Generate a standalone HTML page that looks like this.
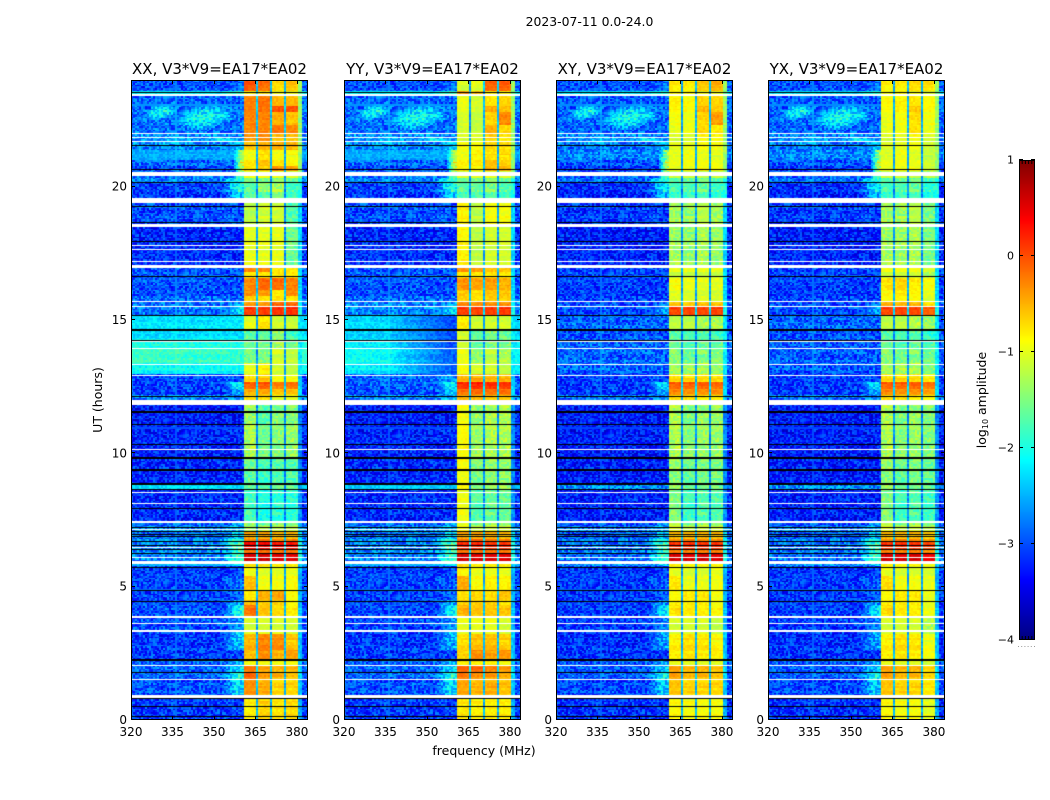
<!DOCTYPE html>
<html lang="en">
<head>
<meta charset="utf-8">
<title>Waterfall amplitude chart</title>
<style>
html,body{margin:0;padding:0;background:#fff;width:1050px;height:800px;overflow:hidden}
#chart{position:relative;width:1050px;height:800px;font-family:"DejaVu Sans","Liberation Sans",sans-serif;color:#000}
canvas{position:absolute;display:block}
svg{position:absolute;left:0;top:0}
svg text{font-family:"DejaVu Sans","Liberation Sans",sans-serif;fill:#000}
</style>
</head>
<body>
<div id="chart">
<svg id="overlay" width="1050" height="800"></svg>
</div>
<script>
const panelTitles = ["XX, V3*V9=EA17*EA02","YY, V3*V9=EA17*EA02","XY, V3*V9=EA17*EA02","YX, V3*V9=EA17*EA02"];
const freqTicks = [320,335,350,365,380];
const hourTicks = [0,5,10,15,20];
const colorbarTicks = [1,0,-1,-2,-3,-4];
const notchFreqs = [365.2,370.2,375.3];
const segmentTopHours = [24,23.55,23.44,23.06,22.8,22.3,21.97,21.64,21.37,21.0,20.77,20.55,20.33,20.17,19.8,19.35,18.45,16.95,16.8,16.54,16.13,15.9,15.64,15.49,15.15,14.59,14.25,13.91,13.35,12.94,12.67,12.45,12.15,11.81,11.1,9.82,8.85,8.62,7.42,7.24,7.09,6.75,6.64,6.375,6.26,5.9,5.74,5.4,4.88,4.5,4.35,3.86,3.34,3.22,2.62,2.25,2.06,1.8,1.5,.86,.79];
/* level of the faint skirt above the top of the band, per segment */
const wingLevels = [-1.4,-1.4,-1.4,-1.4,-1.4,-1.4,-1.4,-1.4,-1.4,-1.4,-1.4,-1.5,-1.9,-2,-2,-2.3,-2.3,-2.3,-2.3,-2.3,-2.3,-2.3,-2.2,-2.1,-2.2,-2.2,-2.2,-2.2,-2.2,-2.4,-2.3,-2.3,-2.4,-2.7,-2.7,-2.7,-2.6,-2.7,-2.6,-2.4,-2.2,-2.1,-2,-2.1,-2,-2.3,-2.5,-2.5,-2.5,-2.5,-2.4,-2.5,-2.5,-2.4,-2.4,-2.4,-2.3,-2.3,-2.4,-2.4,-2.5];
/* each row: background, shoulder, sub-band 1..4 (log10 amplitude) */
const xxRows = [[-2.9,-2.8,-.05,-.15,-.7,-.6],[-2.2,-1.8,-.9,-.8,-1,-1],[-2.8,-2.8,-.3,-.2,-.55,-.55],[-2.8,-2.8,-.25,-.2,-.05,-.05],[-2.75,-2.75,-.3,-.3,-.5,-.6],[-2.75,-2.75,-.3,-.3,-.2,-.3],[-2.6,-2.6,-.4,-.35,-.6,-.6],[-2.6,-2.4,-.6,-.5,-.5,-.5],[-2.5,-1.3,-.9,-.7,-.9,-.9],[-2.8,-.9,-.8,-.6,-.8,-.9],[-2.9,-1,-.7,-.6,-.3,-.4],[-2.8,-1.3,-1,-1,-1,-1.1],[-2.6,-1.9,-1.5,-1.5,-1.5,-1.6],[-3,-1.9,-1.7,-1.4,-1.3,-1.8],[-3,-2.3,-1.7,-1.7,-1.4,-1.8],[-2.9,-2.9,-1.2,-1.1,-1.1,-1.7],[-3.1,-3.1,-1,-1,-1,-1.6],[-2.9,-2.9,-.3,-.3,-.8,-.8],[-2.9,-2.9,-.8,-.8,-.8,-.8],[-2.9,-2.9,-.3,-.15,-.15,-.25],[-2.9,-2.9,-.3,-.4,-.8,-.3],[-2.8,-2.8,-.7,-.8,-.8,-.8],[-2.7,-2.5,-.35,-.35,-.1,-.1],[-2.7,-2.2,.1,.1,.15,.15],[-2.25,-2.2,-1,-.75,-1.1,-1.15],[-2.3,-2.3,-1.7,-1.7,-1.4,-1.8],[-2,-2,-1.6,-1.5,-1.3,-1.5],[-1.85,-1.9,-1.6,-1.5,-1.1,-1.2],[-2.1,-2.1,-1,-.85,-1.1,-1.2],[-2.95,-2.9,-.7,-.6,-.9,-.9],[-2.95,-2.2,-.1,-.05,-.25,-.2],[-3,-2.5,-.5,-.45,-.6,-.6],[-2.6,-2.6,-.7,-.7,-1,-1],[-3.2,-3.2,-1.4,-1.7,-1.5,-1.5],[-3.15,-3.15,-1.3,-1.6,-1.5,-1.4],[-3.1,-3.1,-1.6,-1.8,-1.7,-1.7],[-2.3,-2.3,-1.7,-1.7,-1.6,-1.7],[-3.1,-3.1,-1.8,-2,-1.9,-1.9],[-2.8,-2.6,-1.4,-1.6,-1.5,-1.5],[-2.6,-2.3,-1.3,-1.3,-1.2,-1.2],[-2.7,-2.2,-.4,-.4,-.5,-.5],[-2.6,-1.9,-.3,-.3,-.35,-.3],[-2.6,-1.7,.4,.4,.3,.3],[-2.6,-1.8,-.2,-.15,-.2,-.2],[-2.6,-1.7,.6,.65,.55,.55],[-2.5,-2.2,-.7,-.7,-.8,-.8],[-3,-3,-.95,-1,-1,-1],[-3,-2.7,-.6,-.95,-.95,-.9],[-3,-2.9,-.8,-.5,-.45,-.9],[-3,-2.5,-.6,-.7,-.7,-.9],[-2.9,-2,-.2,-.6,-.7,-.8],[-2.9,-2.6,-1.1,-1.1,-1.1,-1.1],[-2.9,-2.2,-1,-1,-1,-1],[-3,-2.3,-.5,-.25,-.3,-.6],[-3,-2.9,-.55,-.3,-.5,-.4],[-2.8,-2.4,-.9,-.9,-.9,-.9],[-2.8,-2.2,-.2,-.4,-.5,-.5],[-2.8,-1.9,-.15,-.4,-.5,-.6],[-2.9,-2.2,-.35,-.5,-.7,-.7],[-2.9,-2.2,-.35,-.5,-.7,-.7],[-3,-3,-.8,-.65,-.75,-.7]];
const yyRows = [[-2.9,-2.8,-1.1,-1,-.1,-.1],[-2.2,-1.8,-.4,-.6,-.9,-.9],[-2.8,-2.8,-1,-1.1,-.8,-.7],[-2.8,-2.8,-1,-1.1,-.5,-.6],[-2.75,-2.75,-1.1,-1.2,-.7,-.3],[-2.75,-2.75,-1.1,-1.2,-.5,-.7],[-2.6,-2.6,-1.1,-1.1,-.7,-.8],[-2.6,-2.3,-.9,-.9,-.7,-.7],[-2.5,-1.2,-.9,-.8,-.7,-.7],[-2.8,-.9,-.85,-.8,-.6,-.7],[-2.9,-.9,-.8,-.8,-.5,-.5],[-2.8,-1.2,-1.1,-1.1,-1,-1.1],[-2.6,-1.8,-1.6,-1.5,-1.5,-1.6],[-3,-1.9,-1.7,-1.6,-1.5,-1.7],[-3,-2.3,-1.8,-1.7,-1.6,-1.8],[-2.9,-2.9,-.8,-1.2,-.9,-.9],[-3.1,-3.1,-.85,-1.2,-1.1,-1.1],[-2.9,-2.9,-.35,-.4,-.6,-.6],[-2.9,-2.9,-.8,-.8,-.8,-.8],[-2.9,-2.9,-.35,-.45,-.4,-.5],[-2.9,-2.9,-.6,-.75,-.6,-.6],[-2.8,-2.8,-.7,-.8,-.7,-.7],[-2.6,-2.5,-.25,-.3,-.3,-.3],[-2.6,-2.2,.1,.05,.1,.1],[-2.3,-3,-.8,-1.1,-1.1,-1.1],[-2.35,-3,-1.1,-1.7,-1.5,-1.6],[-2.2,-3,-1.1,-1.6,-1.5,-1.5],[-2.1,-2.9,-1,-1.4,-1.2,-1.3],[-2.2,-2.9,-.9,-1.1,-1.1,-1.2],[-2.8,-2.5,-.5,-.45,-.5,-.5],[-2.8,-2.2,.15,.2,.15,.1],[-2.9,-2.3,-.2,-.15,-.2,-.2],[-2.6,-2.4,-.5,-.5,-.6,-.6],[-3.2,-3.2,-.95,-1.4,-1.3,-1.3],[-3.15,-3.15,-.9,-1.4,-1.3,-1.3],[-3.1,-3.1,-.9,-1.5,-1.4,-1.4],[-2.4,-2.4,-.9,-1.5,-1.4,-1.4],[-3.1,-3.1,-.95,-1.7,-1.6,-1.6],[-2.8,-2.6,-1,-1.5,-1.4,-1.4],[-2.6,-2.3,-.9,-1.2,-1.1,-1.1],[-2.7,-2.2,-.4,-.4,-.45,-.5],[-2.6,-1.9,-.2,-.2,-.25,-.3],[-2.6,-1.7,.2,.2,.15,.15],[-2.6,-1.8,-.2,-.2,-.2,-.2],[-2.6,-1.7,.6,.6,.55,.55],[-2.5,-2.2,-.7,-.8,-.8,-.8],[-3,-3,-.85,-.95,-.95,-1],[-3,-2.8,-.5,-.9,-.85,-.85],[-3,-2.9,-.75,-.7,-.75,-.6],[-3,-2.5,-.7,-.7,-.7,-.8],[-2.95,-2.1,-.5,-.6,-.6,-.6],[-2.95,-2.6,-1,-1,-1,-1.1],[-2.95,-2.3,-1,-1,-1,-1],[-3,-2.4,-.7,-.55,-.55,-.65],[-3,-2.9,-.65,-.3,-.4,-.35],[-2.8,-2.4,-.8,-.8,-.8,-.9],[-2.8,-2.2,-.1,-.1,-.25,-.35],[-2.8,-1.9,-.25,-.35,-.4,-.5],[-2.9,-2.2,-.45,-.55,-.5,-.6],[-2.9,-2.2,-.45,-.55,-.5,-.6],[-3,-3,-.75,-.8,-.8,-.8]];
const xyRows = [[-2.9,-2.8,-.8,-.8,-.6,-.5],[-2.3,-1.9,-.9,-.9,-1,-1],[-2.85,-2.85,-.85,-.9,-.7,-.7],[-2.85,-2.85,-.85,-.9,-.55,-.65],[-2.8,-2.8,-.95,-1,-.7,-.4],[-2.8,-2.8,-1,-1,-.7,-.8],[-2.65,-2.65,-1.1,-1.1,-.9,-.9],[-2.7,-2.4,-1,-1,-.9,-.9],[-2.6,-1.3,-.95,-.9,-.95,-1],[-2.9,-1,-1,-.95,-.95,-1],[-3,-1,-.95,-.9,-.85,-.9],[-2.9,-1.3,-1.2,-1.2,-1.2,-1.2],[-2.7,-1.9,-1.7,-1.6,-1.6,-1.7],[-3.1,-2.1,-1.8,-1.7,-1.6,-1.8],[-3.1,-2.4,-1.9,-1.8,-1.7,-1.9],[-3,-3,-1.3,-1.4,-1.2,-1.3],[-3.15,-3.15,-1.35,-1.4,-1.3,-1.4],[-3,-3,-1,-1,-1,-1],[-3,-3,-1.2,-1.2,-1.2,-1.2],[-3,-3,-.9,-1,-1,-1],[-3,-3,-1,-1.1,-1.1,-1.1],[-3,-3,-1.1,-1.1,-1.1,-1.1],[-2.9,-2.7,-.55,-.6,-.55,-.55],[-2.9,-2.5,.05,.05,.05,.05],[-2.8,-2.8,-1.2,-1.2,-1.3,-1.3],[-2.9,-2.9,-1.7,-1.8,-1.7,-1.8],[-2.8,-2.8,-1.6,-1.7,-1.6,-1.6],[-2.8,-2.8,-1.5,-1.6,-1.5,-1.5],[-2.8,-2.8,-1.3,-1.4,-1.3,-1.4],[-3,-2.9,-.7,-.7,-.7,-.7],[-3,-2.3,-.1,-.1,-.1,-.15],[-3,-2.5,-.3,-.35,-.35,-.35],[-2.7,-2.6,-.7,-.7,-.8,-.8],[-3.2,-3.2,-1.3,-1.5,-1.4,-1.4],[-3.2,-3.2,-1.3,-1.5,-1.4,-1.4],[-3.15,-3.15,-1.4,-1.6,-1.5,-1.5],[-2.6,-2.6,-1.4,-1.6,-1.6,-1.6],[-3.15,-3.15,-1.5,-1.8,-1.7,-1.7],[-2.9,-2.7,-1.2,-1.5,-1.4,-1.4],[-2.7,-2.4,-1,-1.2,-1.1,-1.1],[-2.8,-2.3,-.5,-.5,-.5,-.5],[-2.7,-2,-.35,-.35,-.35,-.35],[-2.7,-1.8,.15,.15,.15,.15],[-2.7,-1.9,-.25,-.25,-.25,-.25],[-2.7,-1.7,.6,.6,.6,.55],[-2.6,-2.3,-.8,-.85,-.85,-.85],[-3.05,-3.05,-1,-1.05,-1.05,-1],[-3.05,-2.8,-.8,-1,-1,-.95],[-3.05,-2.95,-.9,-.8,-.8,-.95],[-3.05,-2.6,-.85,-.85,-.85,-.95],[-3,-2.2,-.75,-.8,-.8,-.85],[-3,-2.7,-1.1,-1.1,-1.1,-1.2],[-3,-2.4,-1.05,-1.05,-1.05,-1.1],[-3.05,-2.5,-.8,-.7,-.75,-.85],[-3.05,-3,-.8,-.75,-.8,-.8],[-2.85,-2.5,-.95,-1,-1,-1],[-2.85,-2.3,-.4,-.5,-.5,-.55],[-2.85,-2,-.45,-.55,-.55,-.6],[-2.95,-2.3,-.6,-.7,-.7,-.7],[-2.95,-2.3,-.6,-.7,-.7,-.7],[-3.05,-3.05,-.85,-.9,-.9,-.9]];
const yxRows = [[-2.9,-2.8,-.85,-.8,-.7,-.75],[-2.3,-1.9,-.95,-.9,-1,-1.1],[-2.85,-2.85,-.9,-.85,-.8,-.9],[-2.85,-2.85,-.9,-.85,-.65,-.9],[-2.8,-2.8,-1,-.95,-.75,-.95],[-2.8,-2.8,-1,-1,-.75,-1],[-2.65,-2.65,-1.1,-1.05,-.95,-1.1],[-2.7,-2.4,-1.05,-1,-.95,-1.1],[-2.6,-1.3,-1,-.9,-1,-1.15],[-2.9,-1,-1,-.95,-1,-1.15],[-3,-1,-.95,-.9,-.9,-1.1],[-2.9,-1.3,-1.2,-1.2,-1.2,-1.3],[-2.7,-1.9,-1.7,-1.6,-1.6,-1.8],[-3.1,-2.1,-1.8,-1.7,-1.6,-1.9],[-3.1,-2.4,-1.9,-1.8,-1.7,-2],[-3,-3,-1.3,-1.35,-1.2,-1.5],[-3.15,-3.15,-1.35,-1.35,-1.3,-1.55],[-3,-3,-.95,-.95,-.95,-1.1],[-3,-3,-1.15,-1.15,-1.15,-1.3],[-3,-3,-.75,-.7,-.8,-.9],[-3,-3,-.85,-.8,-.85,-1],[-3,-3,-.95,-.9,-.95,-1.1],[-2.9,-2.7,-.45,-.5,-.5,-.7],[-2.9,-2.5,.05,.05,.05,-.1],[-2.8,-2.8,-1.2,-1.2,-1.25,-1.4],[-2.9,-2.9,-1.7,-1.8,-1.7,-1.9],[-2.85,-2.85,-1.6,-1.7,-1.6,-1.7],[-2.85,-2.85,-1.5,-1.55,-1.5,-1.6],[-2.85,-2.85,-1.3,-1.35,-1.3,-1.5],[-3,-2.9,-.7,-.7,-.7,-.8],[-3,-2.3,-.1,-.1,-.1,-.2],[-3,-2.5,-.3,-.35,-.35,-.45],[-2.7,-2.6,-.7,-.7,-.8,-.9],[-3.2,-3.2,-1.3,-1.5,-1.4,-1.5],[-3.2,-3.2,-1.3,-1.5,-1.4,-1.5],[-3.15,-3.15,-1.4,-1.6,-1.5,-1.6],[-2.6,-2.6,-1.4,-1.6,-1.6,-1.7],[-3.15,-3.15,-1.5,-1.8,-1.7,-1.8],[-2.9,-2.7,-1.2,-1.5,-1.4,-1.5],[-2.7,-2.4,-1,-1.2,-1.1,-1.2],[-2.8,-2.3,-.5,-.5,-.5,-.6],[-2.7,-2,-.35,-.35,-.35,-.45],[-2.7,-1.8,.15,.15,.15,.05],[-2.7,-1.9,-.25,-.25,-.25,-.35],[-2.7,-1.7,.6,.6,.6,.45],[-2.6,-2.3,-.8,-.85,-.85,-.95],[-3.05,-3.05,-1,-1.05,-1.05,-1.1],[-3.05,-2.8,-.75,-.95,-.95,-1],[-3.05,-2.95,-.9,-.8,-.8,-1],[-3.05,-2.6,-.85,-.85,-.85,-1],[-3,-2.2,-.7,-.8,-.8,-.95],[-3,-2.7,-1.1,-1.1,-1.1,-1.25],[-3,-2.4,-1.05,-1.05,-1.05,-1.2],[-3.05,-2.5,-.8,-.7,-.75,-.95],[-3.05,-3,-.8,-.75,-.8,-.9],[-2.85,-2.5,-.95,-1,-1,-1.1],[-2.85,-2.3,-.4,-.5,-.5,-.65],[-2.85,-2,-.45,-.55,-.55,-.7],[-2.95,-2.3,-.6,-.7,-.7,-.8],[-2.95,-2.3,-.6,-.7,-.7,-.8],[-3.05,-3.05,-.85,-.9,-.9,-1]];
/* broad background features: centre MHz, centre hour, radius MHz, radius hours, peak level */
const skyPatches = [[331,22.8,6,.3,-2],[347,22.6,10,.5,-2],[352,21.75,6,.12,-2.2],[335,21.72,12,.13,-2.3]];
/* flagged integrations: hour, duration */
const blankFlags = [[23.44,.09],[21.97,.055],[21.83,.035],[21.68,.055],[20.48,.15],[19.46,.2],[18.53,.13],[17.79,.055],[17.64,.055],[17.21,.035],[17,.13],[15.69,.035],[15.49,.035],[14.19,.035],[13.92,.035],[13.34,.035],[12.93,.035],[11.91,.19],[10.15,.035],[8.54,.055],[8.13,.035],[7.43,.09],[7.15,.035],[6.48,.035],[6.09,.055],[5.91,.13],[3.86,.075],[3.63,.035],[3.35,.075],[2.06,.035],[1.53,.035],[.87,.13]];
const darkFlags = [[23.54,.035],[21.55,.035],[20.63,.055],[20.17,.035],[19.27,.035],[18.66,.035],[17.93,.055],[16.62,.035],[15.16,.055],[14.63,.09],[14.22,.035],[12.15,.035],[11.55,.075],[11.09,.055],[10.34,.055],[9.81,.075],[9.38,.075],[8.85,.075],[8.65,.035],[7.92,.035],[7.23,.035],[7.08,.035],[6.96,.035],[6.87,.035],[6.68,.035],[6.56,.035],[6.4,.035],[6.23,.035],[5.73,.035],[4.86,.035],[4.43,.035],[2.24,.075],[1.79,.035],[.79,.055],[.51,.035],[.12,.035]];
/* hand-typed speckle texture read from the noise floor */
const speckle = [.4,-.7,.1,.9,-.3,-.9,.6,.2,-.5,.8,-.1,-.6,.3,.7,-.8,.5,-.2,.95,-.4,.15,-.75,.55,.05,-.95,.65,-.25,.35,-.55,.85,-.15,.45,-.85,.25,.75,-.35,-.65,.6,-.05,.9,-.45,.1,-.7,.5,-.9,.3,.8,-.2,-.6,.7,.0,-.8,.4,-.3,.95,-.5,.2,-.95,.55,.15,-.4,.85,-.1,-.75,.35,.65,-.55,.05,-.25,.75,-.85,.45,.25,-.65,.9,-.15,-.35,.6,-.45,.1,.8,-.9,.3,-.7,.5,.7,-.2,-.6,.4,-.05,.95,-.8,.2,-.5,.55,-.3,.85,-.95,.15,.65,-.1,-.4];

const panelRows = [xxRows,yyRows,xyRows,yxRows];
const panelLefts = [131,344,556,768];
const panelTop = 80, panelWidth = 177, panelHeight = 640;
const freqMin = 320, freqMax = 384, hourMin = 0, hourMax = 24;
const channelCount = 88, timeRowCount = 400;
const cbLeft = 1019, cbTop = 160, cbWidth = 16, cbHeight = 480, levelMin = -4, levelMax = 1;
const SVGNS = "http://www.w3.org/2000/svg";

function freqX(f){return (f-freqMin)/(freqMax-freqMin)*panelWidth;}
function hourY(h){return (hourMax-h)/(hourMax-hourMin)*panelHeight;}
function levelY(v){return cbTop+(levelMax-v)/(levelMax-levelMin)*cbHeight;}
function jet(t){
  t=Math.max(0,Math.min(1,t));
  function ramp(x){return Math.round(255*Math.max(0,Math.min(1,x)));}
  return "rgb("+ramp(Math.min(4*t-1.5,-4*t+4.5))+","+ramp(Math.min(4*t-.5,-4*t+3.5))+","+ramp(Math.min(4*t+.5,-4*t+2.5))+")";
}
function levelColor(v){return jet((v-levelMin)/(levelMax-levelMin));}
function segmentIndex(h){
  for(let i=segmentTopHours.length-1;i>=0;i--){ if(h<=segmentTopHours[i]) return i; }
  return 0;
}
function tex(c,r){return speckle[(c*37+r*61+c*r*11)%speckle.length];}
function cellLevel(rows,f,h,c,r){
  const seg=segmentIndex(h);
  const row=rows[seg];
  const bg=row[0],sh=row[1];
  const stripe=speckle[(r*13)%speckle.length];
  if(f>=360.5&&f<380.4){
    const k=f<365.2?2:f<370.2?3:f<375.3?4:5;
    for(let i=0;i<notchFreqs.length;i++){
      if(Math.abs(f-notchFreqs[i])<.37) return -2.3+.25*row[k]+.2*tex(c,r);
    }
    const amp=row[k]<-1.2?.25:.1;
    return row[k]+amp*tex(c,r)+.07*stripe;
  }
  if(f>=380.4&&f<382) return wingLevels[seg]+.2*tex(c,r);
  let v=bg;
  if(f<360.5){
    let start,end;
    if(sh<bg){start=335;end=358;}
    else if(sh>-1.5){start=357;end=359.5;}
    else {start=353;end=358;}
    const k=Math.max(0,Math.min(1,(f-start)/(end-start)));
    v=bg+(sh-bg)*k;
  }
  if(Math.abs(sh-bg)<.01||sh<bg||f<354){
    for(let i=0;i<skyPatches.length;i++){
      const p=skyPatches[i];
      const tilt=(h-p[1])*6;
      const d=Math.pow((f-p[0]-tilt)/p[2],2)+Math.pow((h-p[1])/p[3],2);
      if(d<1){
        const lvl=p[4]+(bg-p[4])*d;
        if(lvl>v) v=lvl;
      }
    }
  }
  const amp=bg<-2.5?.45:.2;
  return v+amp*tex(c,r)+.06*stripe-(bg<-2.5?.1:0);
}
function drawPanel(index){
  const cv=document.createElement("canvas");
  
  
  cv.width=panelWidth;
  cv.height=panelHeight;
  cv.style.left=panelLefts[index]+"px";
  cv.style.top=panelTop+"px";
  document.getElementById("chart").insertBefore(cv,document.getElementById("overlay"));
  const g=cv.getContext("2d");
  const rows=panelRows[index];
  const dF=(freqMax-freqMin)/channelCount, dH=(hourMax-hourMin)/timeRowCount;
  for(let r=0;r<timeRowCount;r++){
    const h=hourMax-(r+.5)*dH;
    const y0=Math.round(hourY(h+dH/2)), y1=Math.round(hourY(h-dH/2));
    for(let c=0;c<channelCount;c++){
      const f=freqMin+(c+.5)*dF;
      const x0=Math.round(freqX(f-dF/2)), x1=Math.round(freqX(f+dF/2));
      g.fillStyle=levelColor(cellLevel(rows,f,h,c,r));
      g.fillRect(x0,y0,x1-x0,y1-y0);
    }
  }
  g.fillStyle="#000";
  darkFlags.forEach(function(fl){
    const y=hourY(fl[0]+fl[1]/2);
    g.fillRect(0,Math.round(y),panelWidth,Math.max(1,Math.round(fl[1]/hourMax*panelHeight)));
  });
  g.fillStyle="#fff";
  blankFlags.forEach(function(fl){
    const y=hourY(fl[0]+fl[1]/2);
    g.fillRect(0,Math.round(y),panelWidth,Math.max(1,Math.round(fl[1]/hourMax*panelHeight)));
  });
}
const overlay=document.getElementById("overlay");
function addLine(x1,y1,x2,y2,name,stroke){
  const l=document.createElementNS(SVGNS,"line");
  l.setAttribute("x1",x1);l.setAttribute("y1",y1);l.setAttribute("x2",x2);l.setAttribute("y2",y2);
  l.setAttribute("stroke",stroke||"#000");l.setAttribute("stroke-width","1");
  
  
  overlay.appendChild(l);
  return l;
}
function addText(x,y,str,size,anchor,name){
  const t=document.createElementNS(SVGNS,"text");
  t.setAttribute("x",x);t.setAttribute("y",y);t.setAttribute("font-size",size);t.setAttribute("text-anchor",anchor);
  t.textContent=str;
  
  
  overlay.appendChild(t);
  return t;
}
function drawAxes(index){
  const L=panelLefts[index], T=panelTop, R=L+panelWidth, B=T+panelHeight;
  const frame=document.createElementNS(SVGNS,"rect");
  frame.setAttribute("x",L+.5);frame.setAttribute("y",T+.5);frame.setAttribute("width",panelWidth-1);frame.setAttribute("height",panelHeight-1);
  frame.setAttribute("fill","none");frame.setAttribute("stroke","#000");
  
  
  overlay.appendChild(frame);
  freqTicks.forEach(function(f){
    const x=Math.round(L+freqX(f))+.5;
    addLine(x,B,x,B-4,"x-tick");
    addLine(x,T,x,T+4,"x-tick-top");
    addText(L+freqX(f),B+16,String(f),12,"middle","x-tick-label");
  });
  hourTicks.forEach(function(h){
    const y=Math.round(T+hourY(h))-.5;
    addLine(L,y,L+4,y,"y-tick");
    addLine(R,y,R-4,y,"y-tick-right");
    addText(L-4,T+hourY(h)+4,String(h),12,"end","y-tick-label");
  });
  addText(L+panelWidth/2,74,panelTitles[index],15,"middle","panel-title");
}
function drawColorbar(){
  const cv=document.createElement("canvas");
  
  
  cv.width=cbWidth;
  cv.height=cbHeight;
  cv.style.left=cbLeft+"px";
  cv.style.top=cbTop+"px";
  document.getElementById("chart").insertBefore(cv,overlay);
  const g=cv.getContext("2d");
  for(let y=0;y<cbHeight;y++){
    g.fillStyle=levelColor(levelMax-(y+.5)/cbHeight*(levelMax-levelMin));
    g.fillRect(0,y,cbWidth,1);
  }
  const frame=document.createElementNS(SVGNS,"rect");
  frame.setAttribute("x",cbLeft+.5);frame.setAttribute("y",cbTop+.5);frame.setAttribute("width",cbWidth-1);frame.setAttribute("height",cbHeight-1);
  frame.setAttribute("fill","none");frame.setAttribute("stroke","#000");
  
  
  overlay.appendChild(frame);
  colorbarTicks.forEach(function(v){
    const y=Math.round(levelY(v))-.5;
    addLine(cbLeft,y,cbLeft+4,y,"colorbar-tick");
    addLine(cbLeft+cbWidth,y,cbLeft+cbWidth-4,y,"colorbar-tick-right");
    addText(cbLeft-5,levelY(v)+3.5,String(v).replace("-","\u2212"),11,"end","colorbar-tick-label");
  });
  for(let i=1;i<5;i++){
    const x=cbLeft+i*cbWidth/5;
    addLine(x,cbTop,x,cbTop+4,"colorbar-minor-tick");
    addLine(x,cbTop+cbHeight,x,cbTop+cbHeight-4,"colorbar-minor-tick");
  }
  for(let i=0;i<6;i++){
    const x=cbLeft-1+i*3.2;
    addLine(x,646.5,x+1,646.5,"colorbar-footer-dot","#999");
  }
}
panelRows.forEach(function(_,i){drawPanel(i);});
panelRows.forEach(function(_,i){drawAxes(i);});
drawColorbar();
addText(589.5,26,"2023-07-11 0.0-24.0",12.4,"middle","figure-title");
addText(484,755,"frequency (MHz)",12.5,"middle","x-axis-title");
const yTitle=addText(102,400,"UT (hours)",12.5,"middle","y-axis-title");
yTitle.setAttribute("transform","rotate(-90 102 400)");
const cbTitle=addText(986,400,"log",12.5,"middle","colorbar-title");
cbTitle.setAttribute("transform","rotate(-90 986 400)");
const sub=document.createElementNS(SVGNS,"tspan");
sub.setAttribute("font-size","8");
sub.setAttribute("dy","2");
sub.textContent="10";


cbTitle.appendChild(sub);
const rest=document.createElementNS(SVGNS,"tspan");
rest.setAttribute("dy","-2");
rest.textContent=" amplitude";


cbTitle.appendChild(rest);
</script>
</body>
</html>
